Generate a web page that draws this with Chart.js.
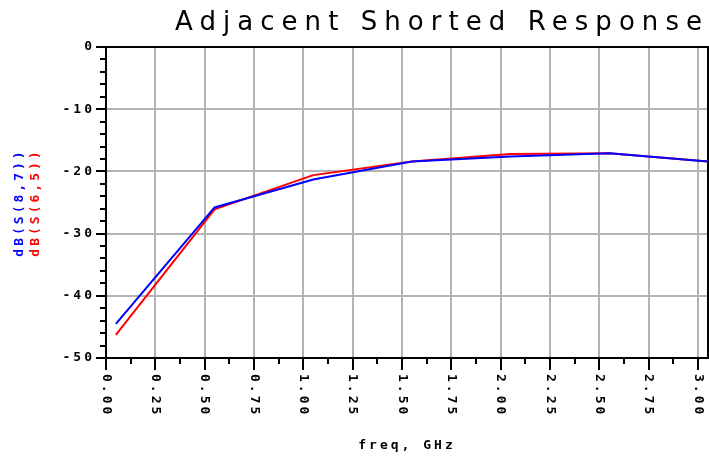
<!DOCTYPE html>
<html>
<head>
<meta charset="utf-8">
<title>Adjacent Shorted Response</title>
<script src="https://cdn.jsdelivr.net/npm/chart.js@4.4.1/dist/chart.umd.min.js"></script>
<style>
  html, body { margin: 0; padding: 0; background: #fff; }
  #wrap { width: 709px; height: 457px; }
</style>
</head>
<body>
<div id="wrap"><canvas id="chart" width="709" height="457"></canvas></div>
<script>
// --- Data ---
const freqGHz = [0.05, 0.55, 1.05, 1.55, 2.05, 2.55, 3.05];
const dbS87 = [-44.5, -25.8, -21.3, -18.4, -17.6, -17.1, -18.4];
const dbS65 = [-46.3, -26.1, -20.6, -18.4, -17.2, -17.1, -18.4];
const seriesLabels = ["dB(S(8,7))", "dB(S(6,5))"];
const titleText = "Adjacent Shorted Response";
const xTitle = "freq, GHz";

const smallFont = { family: "DejaVu Sans Mono", size: 13, weight: "bold" };
const smallFontCss = 'bold 13px "DejaVu Sans Mono"';

const toPoints = (ys) => freqGHz.map((f, i) => ({ x: f, y: ys[i] }));

// frame, minor ticks, rotated tick labels, two-colour y label, spaced title
const plotterText = {
    id: 'plotterText',
    beforeDraw(chart) {
        chart.ctx.letterSpacing = '3px';
    },
    beforeDatasetsDraw(chart) {
        const { ctx, chartArea: a, scales: { x, y } } = chart;
        ctx.save();
        ctx.strokeStyle = '#000';
        ctx.lineWidth = 2;
        ctx.strokeRect(a.left, a.top, a.right - a.left, a.bottom - a.top);

        ctx.beginPath();
        const xt = x.ticks;
        for (let i = 0; i < xt.length - 1; i++) {
            const px = Math.round(x.getPixelForValue((xt[i].value + xt[i + 1].value) / 2));
            ctx.moveTo(px, a.bottom);
            ctx.lineTo(px, a.bottom + 6);
        }
        const yt = y.ticks;
        for (let i = 0; i < yt.length - 1; i++) {
            for (let k = 1; k < 5; k++) {
                const v = yt[i].value + (yt[i + 1].value - yt[i].value) * k / 5;
                const py = Math.round(y.getPixelForValue(v));
                ctx.moveTo(a.left - 6, py);
                ctx.lineTo(a.left, py);
            }
        }
        ctx.stroke();
        ctx.restore();
    },
    afterDraw(chart) {
        const { ctx, chartArea: a, scales: { x } } = chart;
        ctx.save();
        ctx.font = smallFontCss;
        ctx.letterSpacing = '3px';
        ctx.fillStyle = '#000';

        // x tick labels, rotated clockwise
        ctx.textAlign = 'left';
        ctx.textBaseline = 'middle';
        x.ticks.forEach(t => {
            const px = x.getPixelForValue(t.value);
            ctx.save();
            ctx.translate(px, a.bottom + 16);
            ctx.rotate(Math.PI / 2);
            ctx.fillText(t.value.toFixed(2), 0, 0);
            ctx.restore();
        });

        // y axis label in series colours
        const cy = (a.top + a.bottom) / 2;
        [[seriesLabels[0], '#0000ff', 20], [seriesLabels[1], '#ff0000', 36]].forEach(([txt, col, cx]) => {
            ctx.save();
            ctx.translate(cx, cy);
            ctx.rotate(-Math.PI / 2);
            ctx.textAlign = 'center';
            ctx.fillStyle = col;
            ctx.fillText(txt, 0, 0);
            ctx.restore();
        });

        // title
        ctx.font = '26px "DejaVu Sans"';
        ctx.letterSpacing = '0px';
        const w0 = ctx.measureText(titleText).width;
        ctx.letterSpacing = ((527 - w0) / (titleText.length - 1)) + 'px';
        ctx.textAlign = 'left';
        ctx.textBaseline = 'alphabetic';
        ctx.fillText(titleText, 175, 30);
        ctx.restore();
        ctx.letterSpacing = '0px';
    }
};

new Chart(document.getElementById('chart'), {
    type: 'line',
    data: {
        datasets: [
            { label: seriesLabels[0], data: toPoints(dbS87), borderColor: '#0000ff', borderWidth: 2, pointRadius: 0, tension: 0 },
            { label: seriesLabels[1], data: toPoints(dbS65), borderColor: '#ff0000', borderWidth: 2, pointRadius: 0, tension: 0 }
        ]
    },
    options: {
        responsive: false,
        animation: false,
        devicePixelRatio: 1,
        layout: { padding: { top: 47, right: 1, left: 0, bottom: 0 } },
        plugins: { legend: { display: false }, tooltip: { enabled: false }, title: { display: false } },
        scales: {
            x: {
                type: 'linear',
                min: 0,
                max: 3.05,
                afterFit: s => { s.height = 99; },
                ticks: { stepSize: 0.25, includeBounds: false, display: false },
                grid: { color: '#b4b4b4', lineWidth: 2, tickColor: '#000', tickWidth: 2, tickLength: 12 },
                border: { color: '#000', width: 2 },
                title: { display: true, text: xTitle, color: '#000', font: smallFont, padding: { top: 0, bottom: 4 } }
            },
            y: {
                min: -50,
                max: 0,
                afterFit: s => { s.width = 106; },
                ticks: { stepSize: 10, color: '#000', padding: 1, font: smallFont },
                grid: { color: '#b4b4b4', lineWidth: 2, tickColor: '#000', tickWidth: 2, tickLength: 10 },
                border: { color: '#000', width: 2 }
            }
        }
    },
    plugins: [plotterText]
});
</script>
</body>
</html>
